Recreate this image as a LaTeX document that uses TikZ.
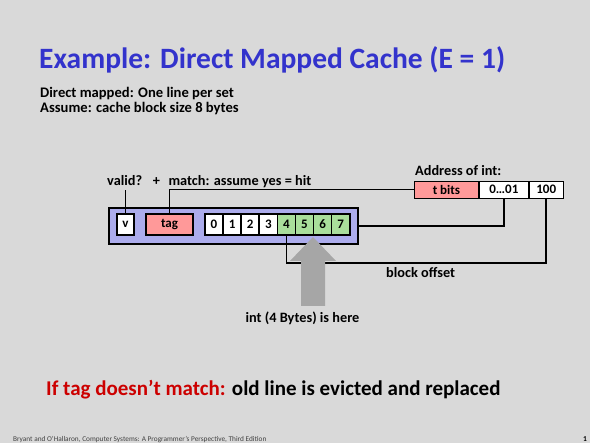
\documentclass[tikz,border=0pt]{standalone}
\usepackage{fontspec}
\setmainfont{Carlito}
\usetikzlibrary{calc}
\definecolor{bg}{RGB}{217,217,217}
\definecolor{titleblue}{RGB}{51,51,204}
\definecolor{lav}{RGB}{172,172,236}
\definecolor{pinkc}{RGB}{255,153,153}
\definecolor{greenc}{RGB}{169,222,155}
\definecolor{arrowgray}{RGB}{166,166,166}
\definecolor{redc}{RGB}{204,0,0}
\tikzset{
  cell/.style={draw=black, line width=1.6pt, fill=white, minimum height=21pt, inner sep=0pt, font=\fontsize{13}{14}\selectfont\bfseries},
  bytecell/.style={cell, minimum width=18.1pt},
  addr/.style={draw=black, line width=0.9pt, fill=white, minimum height=17pt, inner sep=0pt, font=\fontsize{13}{14}\selectfont\bfseries},
  lbl/.style={font=\fontsize{14.3}{16}\selectfont\bfseries, inner sep=0pt},
  conn/.style={line width=1.7pt, black},
}
\begin{document}
\begin{tikzpicture}[x=1pt,y=-1pt]
\fill[bg] (0,0) rectangle (590,443);
\useasboundingbox (0,0) rectangle (590,443);
% title and text
\node[anchor=base west, inner sep=0pt, text=titleblue, font=\fontsize{29.5}{32}\selectfont\bfseries] (title) at (39,69) {Example: Direct Mapped Cache (E = 1)};
\node[anchor=base west, inner sep=0pt, font=\fontsize{14.6}{16}\selectfont\bfseries] (t1) at (40,97.5) {Direct mapped: One line per set};
\node[anchor=base west, inner sep=0pt, font=\fontsize{14.6}{16}\selectfont\bfseries] (t2) at (40,113) {Assume: cache block size 8 bytes};
% cache line
\node[draw=black, line width=1.6pt, fill=lav, minimum width=249pt, minimum height=36pt, inner sep=0pt, anchor=north west] (cline) at (108,207) {};
\node[cell, minimum width=17pt] (v) at (125.5,224.5) {v};
\node[cell, minimum width=47pt, fill=pinkc] (tag) at (169.5,224.5) {tag};
\foreach \i in {0,...,3} {
  \node[bytecell] (b\i) at ({214+\i*18.1},224.5) {\i};
}
\foreach \i in {4,...,7} {
  \node[bytecell, fill=greenc] (b\i) at ({214+\i*18.1},224.5) {\i};
}
% labels
\node[lbl, anchor=base west] (valid) at (107,186) {valid?\hspace{0.75em}+\hspace{0.6em}match: assume yes = hit};
\node[lbl, anchor=base west] (addrlbl) at (415,176) {Address of int:};
% address
\node[addr, fill=pinkc, minimum width=64pt, anchor=west] (tbits) at (414,189.5) {t bits};
\node[addr, minimum width=49pt, anchor=west] (setidx) at (tbits.east) {0…01};
\node[addr, minimum width=34pt, anchor=west] (off) at (setidx.east) {100};
% connectors
\coordinate (vtop) at (125.5,190);
\draw[conn] (v.north) -- (vtop);
\draw[conn] (tag.north) |- (tbits.west);
\draw[conn] (setidx.south) |- (cline.east);
\coordinate (offcorner) at (off.south |- 0,263);
\draw[conn] (off.south) -- (offcorner) -| (b4.south);
\node[lbl, anchor=base west] (blockoff) at (386,278) {block offset};
% gray arrow
\fill[arrowgray] (313,237) -- (336,261) -- (325,261) -- (325,306) -- (301,306) -- (301,261) -- (290,261) -- cycle;
\node[lbl, anchor=base] (intlbl) at (302.5,323) {int (4 Bytes) is here};
% bottom line
\node[anchor=base west, inner sep=0pt, font=\fontsize{21}{24}\selectfont\bfseries] (evict) at (46,396) {\textcolor{redc}{If tag doesn’t match:} old line is evicted and replaced};
% footer
\node[anchor=base west, inner sep=0pt, font=\fontsize{7.3}{8}\selectfont, text=black!75] (foot) at (13,441.5) {Bryant and O’Hallaron, Computer Systems: A Programmer’s Perspective, Third Edition};
\node[anchor=base east, inner sep=0pt, font=\fontsize{7.5}{8}\selectfont\bfseries] (pg) at (587,441.5) {1};
\end{tikzpicture}
\end{document}
